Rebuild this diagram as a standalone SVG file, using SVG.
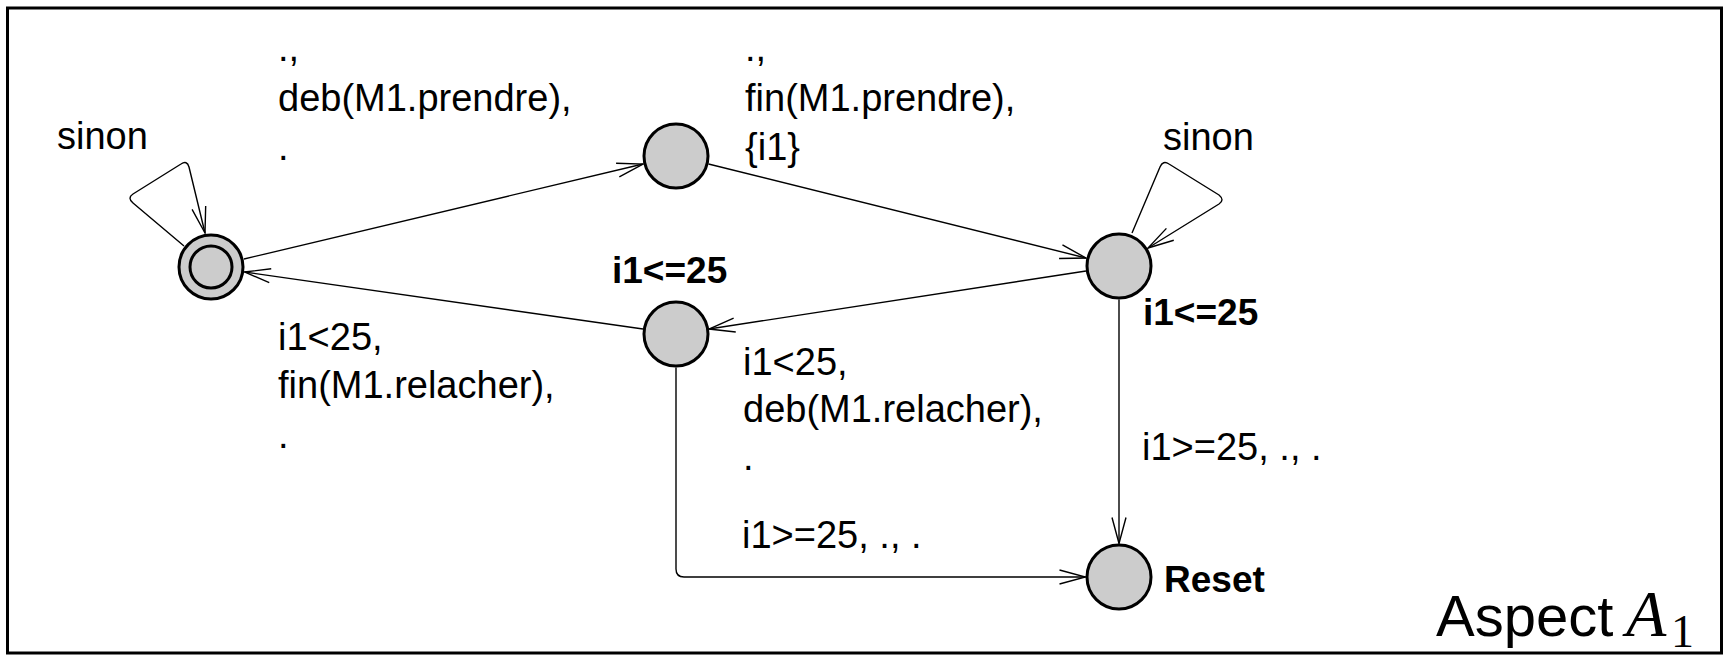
<svg xmlns="http://www.w3.org/2000/svg" width="1724" height="655" viewBox="0 0 1724 655">
  <style>
    .frame { fill: none; stroke: #000; stroke-width: 3; }
    .state { fill: #cccccc; stroke: #000; stroke-width: 3; }
    .edge { fill: none; stroke: #000; stroke-width: 1.4; stroke-linejoin: round; marker-end: url(#arrow); }
    .lbl { font-family: "Liberation Sans", Arial, sans-serif; font-size: 38px; fill: #000; }
    .inv { font-family: "Liberation Sans", Arial, sans-serif; font-size: 37px; font-weight: bold; fill: #000; }
    .title { font-family: "Liberation Sans", Arial, sans-serif; font-size: 58px; fill: #000; }
    .math { font-family: "Liberation Serif", "Times New Roman", serif; fill: #000; }
  </style>
  <defs>
    <marker id="arrow" viewBox="-28 -9 30 18" markerWidth="30" markerHeight="18" refX="0" refY="0" orient="auto" markerUnits="userSpaceOnUse">
      <path d="M -26 -7 L 0 0 L -26 7" fill="none" stroke="#000" stroke-width="1.4"/>
    </marker>
  </defs>

  <rect class="frame" x="7.5" y="8" width="1714" height="645"/>

  <!-- transitions -->
  <g id="edges">
    <path class="edge" d="M 244 259 L 643 164"/>
    <path class="edge" d="M 708.5 164 L 1086 258"/>
    <path class="edge" d="M 1086 271 L 709 329"/>
    <path class="edge" d="M 643 329 L 244.5 272"/>
    <path class="edge" d="M 1119 299.5 L 1119 543.5"/>
    <path class="edge" d="M 676 367.5 L 676 569 Q 676 577 684 577 L 1085.5 577"/>
    <!-- self loops -->
    <path class="edge" d="M 184 246 L 133 203 Q 127 198 133 194 L 181 164 Q 187 160 189 167 L 205 233"/>
    <path class="edge" d="M 1132 233 L 1160 167 Q 1163 160 1169 164 L 1219 195 Q 1225 200 1219 204 L 1148 248"/>
  </g>

  <!-- edge labels -->
  <g id="edge-labels">
    <text class="lbl" x="57" y="149">sinon</text>
    <text class="lbl" x="1163" y="150">sinon</text>
    <text class="lbl" x="278" y="61">.,</text>
    <text class="lbl" x="278" y="111">deb(M1.prendre),</text>
    <text class="lbl" x="278" y="160">.</text>
    <text class="lbl" x="745" y="61">.,</text>
    <text class="lbl" x="745" y="111">fin(M1.prendre),</text>
    <text class="lbl" x="745" y="160">{i1}</text>
    <text class="lbl" x="278" y="350">i1&lt;25,</text>
    <text class="lbl" x="278" y="398">fin(M1.relacher),</text>
    <text class="lbl" x="278" y="448">.</text>
    <text class="lbl" x="743" y="375">i1&lt;25,</text>
    <text class="lbl" x="743" y="422">deb(M1.relacher),</text>
    <text class="lbl" x="743" y="470">.</text>
    <text class="lbl" x="742" y="548">i1&gt;=25, ., .</text>
    <text class="lbl" x="1142" y="460">i1&gt;=25, ., .</text>
  </g>

  <!-- states -->
  <g id="s-init">
    <circle class="state" cx="211" cy="267" r="32"/>
    <circle class="state" cx="211" cy="267" r="21"/>
  </g>
  <g id="s-pris">
    <circle class="state" cx="676" cy="156" r="32"/>
  </g>
  <g id="s-occupe">
    <circle class="state" cx="1119" cy="266" r="32"/>
    <text class="inv" x="1143" y="325">i1&lt;=25</text>
  </g>
  <g id="s-relache">
    <circle class="state" cx="676" cy="334" r="32"/>
    <text class="inv" x="612" y="283">i1&lt;=25</text>
  </g>
  <g id="s-reset">
    <circle class="state" cx="1119" cy="577" r="32"/>
    <text class="inv" x="1164" y="592">Reset</text>
  </g>

  <g id="caption">
    <text class="title" x="1436" y="636">Aspect</text>
    <text class="math" x="1626" y="636" font-size="66" font-style="italic">A</text>
    <text class="math" x="1671" y="647" font-size="46">1</text>
  </g>
</svg>
